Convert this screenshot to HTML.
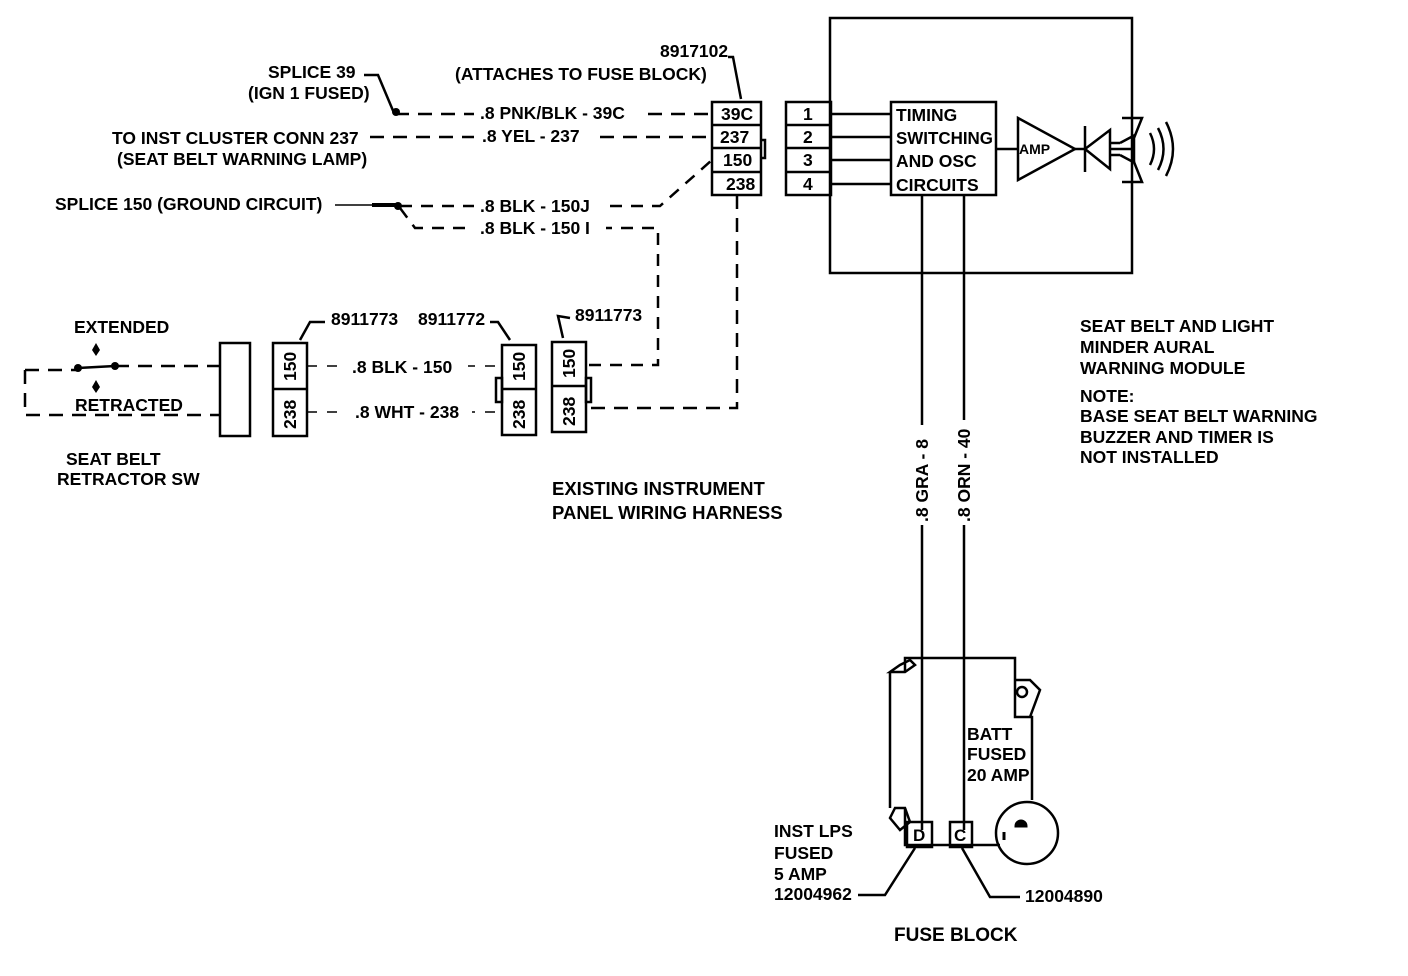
<!DOCTYPE html>
<html><head><meta charset="utf-8"><style>
html,body{margin:0;padding:0;background:#fff}
svg{display:block}
text{font-family:"Liberation Sans",Arial,sans-serif;font-weight:bold;font-size:17.5px;fill:#000}
</style></head><body>
<svg width="1408" height="976" viewBox="0 0 1408 976" xmlns="http://www.w3.org/2000/svg">
<g fill="none" stroke="#000" stroke-width="2.5">
<rect x="712" y="102" width="49" height="93"/>
<line x1="712" y1="125" x2="761" y2="125"/>
<line x1="712" y1="148" x2="761" y2="148"/>
<line x1="712" y1="172" x2="761" y2="172"/>
<path d="M761 140 h4 v18 h-4"/>
<path d="M728 57 h5 l8 42" />
<path d="M364 75 h14 l16 38"/>
<path d="M395 114 H712" stroke-dasharray="14,9"/>
<path d="M370 137 H712" stroke-dasharray="14,9"/>
<path d="M335 205 H372" stroke-width="1.5"/>
<path d="M372 205 H398" stroke-width="4"/>
<path d="M400 206 H660 L712 160" stroke-dasharray="12,9"/>
<path d="M400 208 L415 228 H658 V365 H586" stroke-dasharray="12,9"/>
<path d="M737 195 V408 H586" stroke-dasharray="14,9"/>
<rect x="830" y="18" width="302" height="255"/>
<rect x="786" y="102" width="45" height="93"/>
<line x1="786" y1="125" x2="831" y2="125"/>
<line x1="786" y1="148" x2="831" y2="148"/>
<line x1="786" y1="172" x2="831" y2="172"/>
<rect x="891" y="102" width="105" height="93"/>
<line x1="831" y1="114" x2="891" y2="114"/>
<line x1="831" y1="137" x2="891" y2="137"/>
<line x1="831" y1="160" x2="891" y2="160"/>
<line x1="831" y1="184" x2="891" y2="184"/>
<line x1="996" y1="149" x2="1018" y2="149"/>
<path d="M1018 118 L1075 149 L1018 180 Z"/>
<line x1="1075" y1="149" x2="1085" y2="149"/>
<line x1="1085" y1="126" x2="1085" y2="172"/>
<path d="M1085 149 L1110 130 L1110 169 Z"/>
<path d="M1110 143 h10 M1110 149 h25 M1110 155 h10 M1120 143 l15 -8 M1120 155 l15 8"/>
<path d="M1122 118 h20 l-8 20 v24 l8 20 h-20"/>
<path d="M1150 133 q8 16 0 32 M1158 128 q11 21 0 42 M1166 122 q14 27 0 54"/>
<line x1="922" y1="195" x2="922" y2="830"/>
<line x1="964" y1="195" x2="964" y2="830"/>
<path d="M905 672 V658 H1015 V717 H1030 L1040 690 L1030 680 H1015 M1015 717 H1032 V800"/>
<path d="M890 672 H905 L915 665 L910 660 L900 665 Z"/>
<path d="M890 672 V808"/>
<path d="M895 808 L890 818 L900 830 L910 822 L905 808 Z"/>
<path d="M905 808 V845 H1000"/>
<circle cx="1027" cy="833" r="31"/>
<circle cx="1022" cy="692" r="5"/>
<rect x="907" y="822" width="25" height="25"/>
<rect x="950" y="822" width="22" height="25"/>
<path d="M858 895 H885 L915 848"/>
<path d="M1020 897 H990 L962 848"/>
<path d="M25 370 V415 H220" stroke-dasharray="14,9"/>
<path d="M25 370 H78" stroke-dasharray="14,9"/>
<path d="M78 368 L115 366"/>
<path d="M115 366 H220" stroke-dasharray="14,9"/>
<rect x="220" y="343" width="30" height="93"/>
<rect x="273" y="343" width="34" height="93"/>
<line x1="273" y1="389" x2="307" y2="389"/>
<rect x="502" y="345" width="34" height="90"/>
<line x1="502" y1="389" x2="536" y2="389"/>
<rect x="496" y="378" width="6" height="24"/>
<rect x="552" y="342" width="34" height="90"/>
<line x1="552" y1="386" x2="586" y2="386"/>
<rect x="586" y="378" width="5" height="24"/>
<path d="M307 366 H350 M465 366 H502" stroke-dasharray="10,10" stroke-width="1.5"/>
<path d="M307 412 H350 M465 412 H502" stroke-dasharray="10,10" stroke-width="1.5"/>
<path d="M325 322 h-15 l-10 18"/>
<path d="M490 322 h8 l12 18"/>
<path d="M570 318 l-12 -2 l5 22"/>
</g>
<circle cx="78" cy="368" r="4"/><circle cx="115" cy="366" r="4"/>
<circle cx="396" cy="112" r="4"/><circle cx="398" cy="206" r="4"/>
<path d="M96 343 l-4 7 l4 6 l4 -6 z M96 380 l-4 7 l4 6 l4 -6 z"/>
<path d="M1016 826 h10 a4 4 0 0 0 -10 0 z M1004 832 v8" stroke="#000" stroke-width="3"/>
<g fill="#fff"><rect x="904" y="425" width="36" height="100"/><rect x="946" y="420" width="36" height="105"/></g>
<text x="660" y="57">8917102</text>
<text x="455" y="80">(ATTACHES TO FUSE BLOCK)</text>
<text x="268" y="78">SPLICE 39</text>
<text x="248" y="99">(IGN 1 FUSED)</text>
<text x="112" y="144">TO INST CLUSTER CONN 237</text>
<text x="117" y="165">(SEAT BELT WARNING LAMP)</text>
<text x="55" y="210">SPLICE 150 (GROUND CIRCUIT)</text>
<g fill="#fff"><rect x="474" y="104" width="166" height="20"/><rect x="474" y="127" width="118" height="20"/><rect x="474" y="196" width="128" height="20"/><rect x="474" y="219" width="132" height="20"/><rect x="346" y="356" width="122" height="20"/><rect x="346" y="402" width="126" height="20"/></g>
<text x="480" y="119">.8 PNK/BLK - 39C</text>
<text x="482" y="142">.8 YEL - 237</text>
<text x="480" y="212">.8 BLK - 150J</text>
<text x="480" y="234">.8 BLK - 150 I</text>
<text x="721" y="120">39C</text>
<text x="720" y="143">237</text>
<text x="723" y="166">150</text>
<text x="726" y="190">238</text>
<text x="803" y="120">1</text><text x="803" y="143">2</text><text x="803" y="166">3</text><text x="803" y="190">4</text>
<text x="896" y="121">TIMING</text>
<text x="896" y="144" textLength="97" lengthAdjust="spacingAndGlyphs">SWITCHING</text>
<text x="896" y="167">AND OSC</text>
<text x="896" y="191">CIRCUITS</text>
<text x="1019" y="154" style="font-size:14px">AMP</text>
<text x="1080" y="332">SEAT BELT AND LIGHT</text>
<text x="1080" y="353">MINDER AURAL</text>
<text x="1080" y="374">WARNING MODULE</text>
<text x="1080" y="402">NOTE:</text>
<text x="1080" y="422">BASE SEAT BELT WARNING</text>
<text x="1080" y="443">BUZZER AND TIMER IS</text>
<text x="1080" y="463">NOT INSTALLED</text>
<text transform="translate(928,522) rotate(-90)">.8 GRA - 8</text>
<text transform="translate(970,522) rotate(-90)">.8 ORN - 40</text>
<text x="967" y="740">BATT</text>
<text x="967" y="760">FUSED</text>
<text x="967" y="781">20 AMP</text>
<text x="774" y="837">INST LPS</text>
<text x="774" y="859">FUSED</text>
<text x="774" y="880">5 AMP</text>
<text x="774" y="900">12004962</text>
<text x="1025" y="902">12004890</text>
<text x="913" y="841" style="font-size:17px">D</text>
<text x="954" y="841" style="font-size:17px">C</text>
<text x="894" y="941" style="font-size:19px">FUSE BLOCK</text>
<text x="552" y="495" style="font-size:18.5px">EXISTING INSTRUMENT</text>
<text x="552" y="519" style="font-size:18.5px">PANEL WIRING HARNESS</text>
<text x="74" y="333">EXTENDED</text>
<text x="75" y="411">RETRACTED</text>
<text x="66" y="465">SEAT BELT</text>
<text x="57" y="485">RETRACTOR SW</text>
<text x="331" y="325">8911773</text>
<text x="418" y="325">8911772</text>
<text x="575" y="321">8911773</text>
<text x="352" y="373">.8 BLK - 150</text>
<text x="355" y="418">.8 WHT - 238</text>
<text transform="translate(296,381) rotate(-90)">150</text>
<text transform="translate(296,429) rotate(-90)">238</text>
<text transform="translate(525,381) rotate(-90)">150</text>
<text transform="translate(525,429) rotate(-90)">238</text>
<text transform="translate(575,378) rotate(-90)">150</text>
<text transform="translate(575,426) rotate(-90)">238</text>
</svg>
</body></html>
